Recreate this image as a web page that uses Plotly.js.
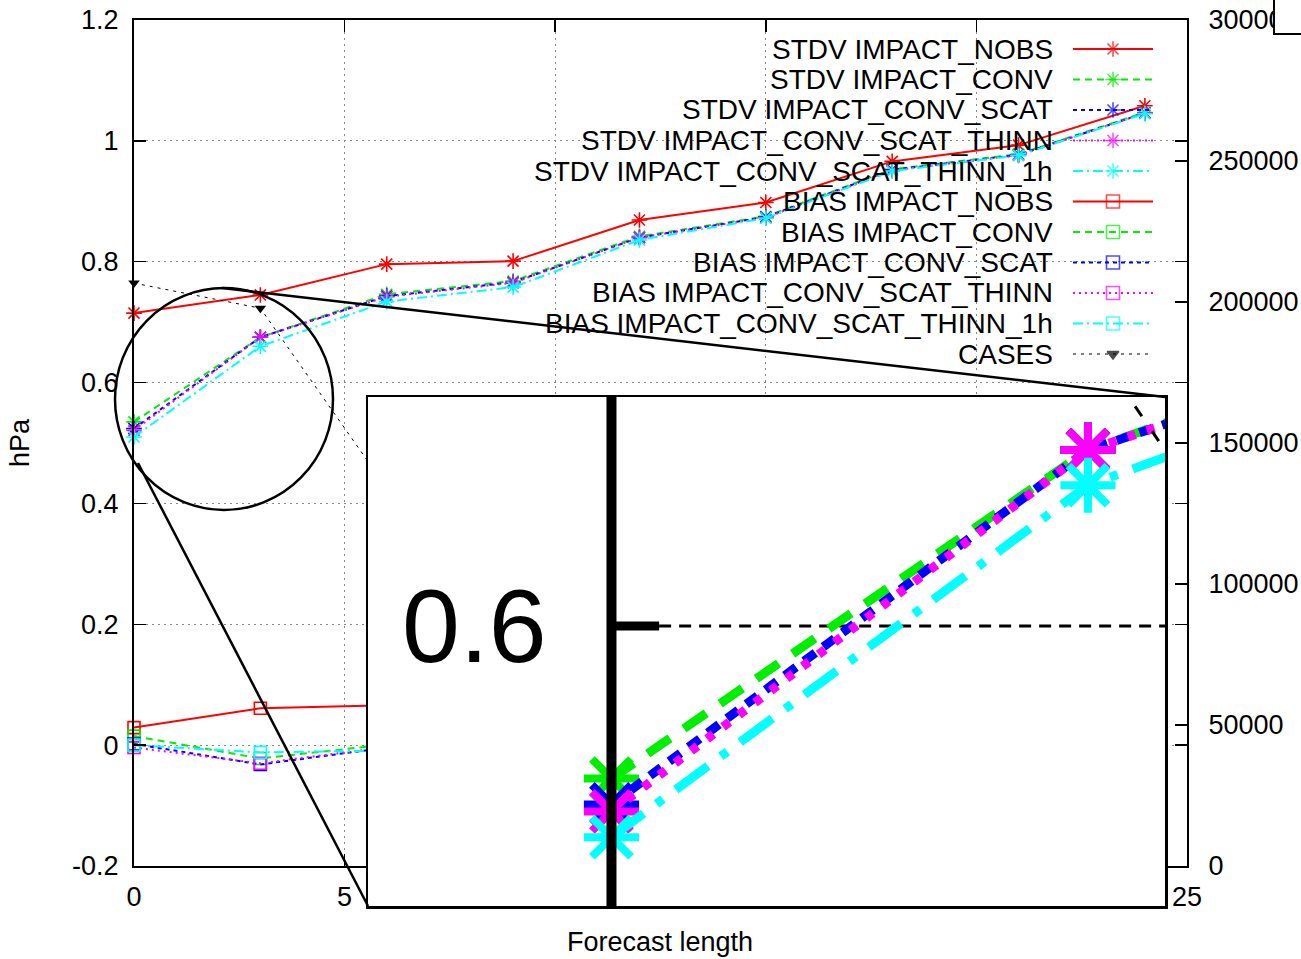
<!DOCTYPE html>
<html><head><meta charset="utf-8">
<script src="https://cdn.plot.ly/plotly-3.0.1.min.js"></script>
<style>html,body{margin:0;padding:0;background:#fff;}#chart{width:1301px;height:959px;}</style>
</head><body><div id="chart"></div>
<script>
// ---------------- data ----------------
const forecastLength = [0, 3, 6, 9, 12, 15, 18, 21, 24];

const stdvNobs            = [0.715, 0.745, 0.796, 0.801, 0.869, 0.898, 0.966, 0.993, 1.058];
const stdvConv            = [0.535, 0.675, 0.746, 0.768, 0.842, 0.875, 0.953, 0.978, 1.047];
const stdvConvScat        = [0.524, 0.675, 0.743, 0.766, 0.840, 0.874, 0.952, 0.977, 1.046];
const stdvConvScatThinn   = [0.521, 0.675, 0.742, 0.765, 0.840, 0.873, 0.951, 0.976, 1.046];
const stdvConvScatThinn1h = [0.510, 0.660, 0.734, 0.758, 0.836, 0.872, 0.950, 0.976, 1.045];

const biasNobs            = [0.029, 0.061, 0.066, 0.070, 0.075, 0.080, 0.086, 0.090, 0.095];
const biasConv            = [0.015, -0.022, 0.001, 0.004, 0.006, 0.008, 0.010, 0.012, 0.014];
const biasConvScat        = [0.002, -0.032, -0.004, 0.000, 0.003, 0.005, 0.007, 0.009, 0.011];
const biasConvScatThinn   = [-0.004, -0.030, -0.003, 0.001, 0.003, 0.005, 0.007, 0.009, 0.011];
const biasConvScatThinn1h = [0.000, -0.012, -0.009, -0.005, -0.002, 0.001, 0.003, 0.005, 0.007];

const cases = [206700, 197800, 134000, 120000, 108000, 98000, 90000, 83000, 77000];

const legendNames = [
  'STDV IMPACT_NOBS', 'STDV IMPACT_CONV', 'STDV IMPACT_CONV_SCAT',
  'STDV IMPACT_CONV_SCAT_THINN', 'STDV IMPACT_CONV_SCAT_THINN_1h',
  'BIAS IMPACT_NOBS', 'BIAS IMPACT_CONV', 'BIAS IMPACT_CONV_SCAT',
  'BIAS IMPACT_CONV_SCAT_THINN', 'BIAS IMPACT_CONV_SCAT_THINN_1h', 'CASES'
];

const xTickVals  = [0, 5, 10, 15, 20, 25];
const xTickText  = ['0', '5', '10', '15', '20', '25'];
const yTickVals  = [-0.2, 0, 0.2, 0.4, 0.6, 0.8, 1, 1.2];
const yTickText  = ['-0.2', '0', '0.2', '0.4', '0.6', '0.8', '1', '1.2'];
const y2TickVals = [0, 50000, 100000, 150000, 200000, 250000, 300000];
const y2TickText = ['0', '50000', '100000', '150000', '200000', '250000', '300000'];
const insetTickVal = 0.6;
const insetTickText = '0.6';

// ---------------- styling ----------------
const W = 1301, H = 959;
const FONT = 'Liberation Sans, Arial, sans-serif';
const colors = ['#ff0000', '#00ee00', '#0000ff', '#ff00ff', '#00ffff'];
const dashMain  = ['solid', '7px,5px', '4px,4px', '2px,4px', '10px,4px,2px,4px'];
const dashInset = ['solid', '27px,17px', '14px,10px', '8px,12px', '40px,16px,8px,16px'];
const stdvSeries = [stdvNobs, stdvConv, stdvConvScat, stdvConvScatThinn, stdvConvScatThinn1h];
const biasSeries = [biasNobs, biasConv, biasConvScat, biasConvScatThinn, biasConvScatThinn1h];

// plot frames (pixels)
const main = {l: 134, r: 1187, t: 20, b: 866};
const inset = {l: 368, r: 1165, t: 397, b: 906};
const xRange = [0, 25], yRange = [-0.2, 1.2], y2Range = [0, 300000];
const x3Range = [-1.533, 3.485], y3Range = [0.4807, 0.6976];
const y4Range = y3Range.map(v => (v - yRange[0]) / (yRange[1] - yRange[0]) * (y2Range[1] - y2Range[0]) + y2Range[0]);

const px = X => X / W, py = Y => (H - Y) / H;
const pxToX = X => xRange[0] + (X - main.l) / (main.r - main.l) * (xRange[1] - xRange[0]);
const pyToY = Y => yRange[0] + (main.b - Y) / (main.b - main.t) * (yRange[1] - yRange[0]);

const traces = [];
// main STDV
stdvSeries.forEach((s, i) => traces.push({
  x: forecastLength, y: s, xaxis: 'x', yaxis: 'y', mode: 'lines+markers', name: legendNames[i],
  showlegend: false, cliponaxis: false,
  line: {color: colors[i], width: 2, dash: dashMain[i]},
  marker: {symbol: 'asterisk-open', size: 13, color: colors[i], line: {color: colors[i], width: 1.6}}
}));
// main BIAS
biasSeries.forEach((s, i) => traces.push({
  x: forecastLength, y: s, xaxis: 'x', yaxis: 'y', mode: 'lines+markers', name: legendNames[5 + i],
  showlegend: false, cliponaxis: false,
  line: {color: colors[i], width: 2, dash: dashMain[i]},
  marker: {symbol: 'square-open', size: 12, color: colors[i], line: {color: colors[i], width: 1.6}}
}));
// main CASES
traces.push({
  x: forecastLength, y: cases, xaxis: 'x', yaxis: 'y2', mode: 'lines+markers', name: 'CASES',
  showlegend: false, cliponaxis: false,
  line: {color: '#000', width: 1, dash: '3px,5px'},
  marker: {symbol: 'triangle-down', size: 10, color: '#000'}
});

// legend keys (gnuplot style, keys right of text)
const rowY = i => 49 + i * 30.5;
const keyX = [1073, 1113, 1153].map(pxToX);
legendNames.forEach((n, i) => {
  const ci = i < 10 ? i % 5 : -1;
  const col = ci >= 0 ? colors[ci] : '#000';
  const sym = i < 5 ? 'asterisk-open' : (i < 10 ? 'square-open' : 'triangle-down');
  const yy = pyToY(rowY(i));
  traces.push({
    x: keyX, y: [yy, yy, yy], xaxis: 'x', yaxis: 'y', mode: 'lines+markers', showlegend: false,
    hoverinfo: 'skip', cliponaxis: false,
    line: {color: col, width: i < 10 ? 2 : 1, dash: ci >= 0 ? dashMain[ci] : '3px,5px'},
    marker: {symbol: sym, size: [0, i < 10 ? 13 : 10, 0], color: col, line: {color: col, width: 1.6}}
  });
});

// inset (magnified copy)
stdvSeries.forEach((s, i) => traces.push({
  x: forecastLength, y: s, xaxis: 'x3', yaxis: 'y3', mode: 'lines+markers', showlegend: false,
  line: {color: colors[i], width: 9, dash: dashInset[i]},
  marker: {symbol: 'asterisk-open', size: 46, color: colors[i], line: {color: colors[i], width: 8}}
}));
traces.push({
  x: forecastLength, y: cases, xaxis: 'x3', yaxis: 'y4', mode: 'lines+markers', showlegend: false,
  line: {color: '#000', width: 3, dash: '12px,18px'},
  marker: {symbol: 'triangle-down', size: 38, color: '#000'}
});

// annotations
const annotations = legendNames.map((n, i) => ({
  text: n, xref: 'paper', yref: 'paper', x: px(1055), y: py(rowY(i)),
  xanchor: 'right', yanchor: 'middle', showarrow: false,
  font: {family: FONT, size: 28, color: '#000'}
}));
annotations.push({text: 'hPa', xref: 'paper', yref: 'paper', x: px(20), y: py(443), textangle: -90,
  xanchor: 'center', yanchor: 'middle', showarrow: false, font: {family: FONT, size: 27, color: '#000'}});
annotations.push({text: 'Forecast length', xref: 'paper', yref: 'paper', x: px(660), y: py(942),
  xanchor: 'center', yanchor: 'middle', showarrow: false, font: {family: FONT, size: 27, color: '#000'}});
annotations.push({text: insetTickText, xref: 'x3', yref: 'y3', x: -0.86, y: insetTickVal,
  xanchor: 'center', yanchor: 'middle', showarrow: false, font: {family: FONT, size: 104, color: '#000'}});

// shapes
const circ = {cx: 224, cy: 399, rx: 109, ry: 111};
const shapes = [
  {type: 'line', xref: 'x3', yref: 'y3', x0: 0.30, x1: x3Range[1], y0: insetTickVal, y1: insetTickVal,
   line: {color: '#000', width: 3, dash: '12px,8px'}, layer: 'below'},
  {type: 'line', xref: 'x3', yref: 'y3', x0: 0, x1: 0, y0: y3Range[0], y1: y3Range[1],
   line: {color: '#000', width: 10}, layer: 'above'},
  {type: 'line', xref: 'x3', yref: 'y3', x0: 0, x1: 0.30, y0: insetTickVal, y1: insetTickVal,
   line: {color: '#000', width: 9}, layer: 'above'},
  {type: 'circle', xref: 'paper', yref: 'paper', x0: px(circ.cx - circ.rx), x1: px(circ.cx + circ.rx),
   y0: py(circ.cy + circ.ry), y1: py(circ.cy - circ.ry), line: {color: '#000', width: 2.5}, layer: 'above'},
  {type: 'line', xref: 'paper', yref: 'paper', x0: px(222), y0: py(288), x1: px(inset.r), y1: py(inset.t),
   line: {color: '#000', width: 2.5}, layer: 'above'},
  {type: 'line', xref: 'paper', yref: 'paper', x0: px(138), y0: py(463), x1: px(inset.l), y1: py(inset.b),
   line: {color: '#000', width: 2.5}, layer: 'above'},
  {type: 'rect', xref: 'paper', yref: 'paper', x0: px(1274), x1: px(1320), y0: py(34), y1: py(-10),
   fillcolor: '#fff', line: {color: '#000', width: 2}, layer: 'above'}
];

const tickFont = {family: FONT, size: 27, color: '#000'};
const layout = {
  width: W, height: H, margin: {l: 0, r: 0, t: 0, b: 0},
  paper_bgcolor: '#fff', plot_bgcolor: '#fff', showlegend: false,
  font: {family: FONT, color: '#000'},
  xaxis: {domain: [px(main.l), px(main.r)], range: xRange, anchor: 'y',
    tickmode: 'array', tickvals: xTickVals, ticktext: xTickText,
    ticks: 'inside', ticklen: 12, tickwidth: 1.5, tickcolor: '#000',
    showline: true, linecolor: '#000', linewidth: 2, mirror: 'ticks',
    showgrid: true, gridcolor: '#888', gridwidth: 1, griddash: '2px,4px', zeroline: false,
    tickfont: tickFont, ticklabelstandoff: 6, fixedrange: true},
  yaxis: {domain: [py(main.b), py(main.t)], range: yRange, anchor: 'x',
    tickmode: 'array', tickvals: yTickVals, ticktext: yTickText,
    ticks: 'inside', ticklen: 12, tickwidth: 1.5, tickcolor: '#000',
    showline: true, linecolor: '#000', linewidth: 2, mirror: 'ticks',
    showgrid: true, gridcolor: '#888', gridwidth: 1, griddash: '2px,4px', zeroline: false,
    tickfont: tickFont, ticklabelstandoff: 8, fixedrange: true},
  yaxis2: {overlaying: 'y', side: 'right', anchor: 'x', range: y2Range,
    tickmode: 'array', tickvals: y2TickVals, ticktext: y2TickText,
    ticks: 'inside', ticklen: 12, tickwidth: 1.5, tickcolor: '#000',
    showline: true, linecolor: '#000', linewidth: 2, showgrid: false, zeroline: false,
    tickfont: tickFont, ticklabelstandoff: 14, fixedrange: true},
  xaxis3: {domain: [px(inset.l), px(inset.r)], range: x3Range, anchor: 'y3',
    showline: true, linecolor: '#000', linewidth: 2.5, mirror: true,
    showticklabels: false, ticks: '', showgrid: false, zeroline: false, fixedrange: true},
  yaxis3: {domain: [py(inset.b), py(inset.t)], range: y3Range, anchor: 'x3',
    showline: true, linecolor: '#000', linewidth: 2.5, mirror: true,
    showticklabels: false, ticks: '', showgrid: false, zeroline: false, fixedrange: true},
  yaxis4: {overlaying: 'y3', anchor: 'x3', range: y4Range, visible: false, fixedrange: true},
  annotations: annotations, shapes: shapes
};

Plotly.newPlot('chart', traces, layout, {staticPlot: true, displayModeBar: false});
</script></body></html>
